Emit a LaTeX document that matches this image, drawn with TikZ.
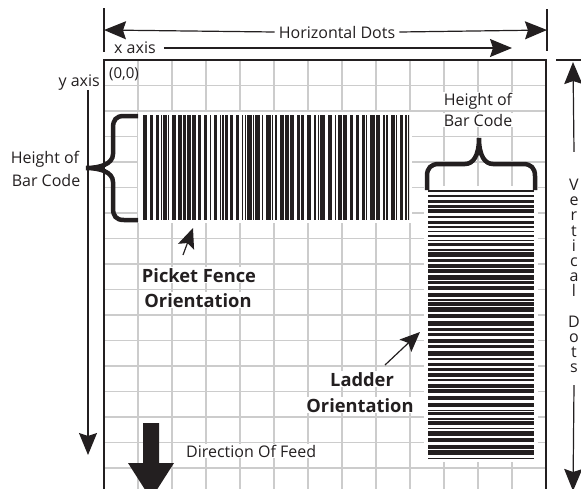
\documentclass[tikz,border=0pt]{standalone}
\usepackage{fontspec}
\setmainfont{Open Sans}
\usetikzlibrary{positioning}
\usetikzlibrary{arrows.meta}
\usetikzlibrary{calc}
\definecolor{ink}{HTML}{231F20}

\begin{document}
\begin{tikzpicture}[
    x=1pt, y=-1pt,
    words/.style={text=ink, font=\fontsize{16}{15.2}\selectfont, inner sep=1pt},
    tag/.style={words, font=\fontsize{18.3}{15.2}\selectfont\bfseries, fill=white},
    gridline/.style={draw=gray!40, line width=1.1pt},
    frame/.style={draw=ink, line width=2.6pt},
    tick/.style={draw=ink, line width=1.2pt},
    dim/.style={draw=ink, line width=1.2pt, -{Stealth[length=22pt,width=18pt,inset=3pt]}},
    pointer/.style={draw=ink, line width=1.2pt, -{Stealth[length=20pt,width=17pt,inset=4pt]}},
    curly/.style={draw=ink, line width=4.5pt},
    bar/.style={fill=ink},
]
    \useasboundingbox (0,0) rectangle (581,488);

    % grid
    \foreach \gx in {138,172,...,512} \draw[gridline] (\gx,60) -- (\gx,490);
    \foreach \gy in {85.5,111,...,468} \draw[gridline] (104,\gy) -- (546,\gy);

    % bar codes
    \fill[white] (138,112) rectangle (412,223);
    \fill[white] (424,186) rectangle (538,462);
    \pgfmathsetseed{17}
    \begin{scope}
        \clip (143,115) rectangle (409,220);
        \foreach \i [evaluate=\i as \bw using {1.4+1.0*int(4*rnd)},
                     evaluate=\i as \nx using {\cx+\bw+1.2+0.9*int(3*rnd)},
                     remember=\nx as \cx (initially 143)] in {1,...,70}
            \fill[bar] (\cx,115) rectangle (\cx+\bw,220);
    \end{scope}
    \begin{scope}
        \clip (428,190) rectangle (534,458);
        \foreach \i [evaluate=\i as \bw using {1.3+1.1*int(4*rnd)},
                     evaluate=\i as \ny using {\cy+\bw+1.2+0.9*int(3*rnd)},
                     remember=\ny as \cy (initially 190)] in {1,...,70}
            \fill[bar] (428,\cy) rectangle (534,\cy+\bw);
    \end{scope}

    \draw[frame] (104,492) -- (104,60) -- (546,60) -- (546,492);

    % braces
    \draw[curly] (138,116) -- (124,116) .. controls (116,116) and (113,120) .. (113,128) -- (113,154)
        .. controls (113,164) and (100,168) .. (86,168)
        .. controls (100,168) and (113,172) .. (113,182) -- (113,208)
        .. controls (113,216) and (116,220) .. (124,220) -- (138,220);
    \draw[curly] (427,190) -- (427,176) .. controls (427,168) and (431,164) .. (439,164) -- (465,164)
        .. controls (473,164) and (479,156) .. (479,138)
        .. controls (479,156) and (485,164) .. (493,164) -- (523,164)
        .. controls (531,164) and (535,168) .. (535,176) -- (535,190);

    % labels
    \node[words, inner sep=4pt] (HD) at (337,32) {Horizontal Dots};
    \node[words, anchor=base west] (XA) at (113,53) {x axis};
    \node[words, anchor=base east] (YA) at (101,86) {y axis};
    \node[words, anchor=base west, font=\fontsize{15}{15}\selectfont] (O) at (108,78) {(0,0)};
    \node[words, anchor=base] (HL1) at (45,163) {Height of};
    \node[words, anchor=base] (HL2) at (46,186) {Bar Code};
    \node[words, anchor=base, fill=white] (HR1) at (478,105) {Height of};
    \node[words, anchor=base, fill=white] (HR2) at (478,126) {Bar Code};
    \node[tag, anchor=base] (PF1) at (199,282) {Picket Fence};
    \node[tag, anchor=base] (PF2) at (198,307) {Orientation};
    \node[tag, anchor=base] (LD1) at (362,386) {Ladder};
    \node[tag, anchor=base] (LD2) at (360,412) {Orientation};
    \node[words, anchor=base west, fill=white] (DF) at (185,457) {Direction Of Feed};
    \node[words, align=center] (VD) at (574,276) {V\\e\\r\\t\\i\\c\\a\\l\\[15.2pt]D\\o\\t\\s};

    \coordinate (HL) at (104,30);
    \coordinate (HR) at (547,30);
    \coordinate (XE) at (512,48);
    \coordinate (YS) at (88,90);
    \coordinate (YE) at (88,455);
    \coordinate (VT) at (573,62);
    \coordinate (VB) at (573,491);
    \coordinate (PS) at (183,255);
    \coordinate (PE) at (193,228);
    \coordinate (LS) at (385,365);
    \coordinate (LE) at (420,332);

    % ticks and arrows
    \draw[tick] (104,8) -- (104,52);
    \draw[tick] (547,9) -- (547,51);
    \draw[tick] (556,60) -- (590,60);
    \draw[dim] (HD.west) -- (HL);
    \draw[dim] (HD.east) -- (HR);
    \draw[dim] ([xshift=7pt]XA.east |- XE) -- (XE);
    \draw[dim] (YS) -- (YE);
    \draw[dim] ([yshift=26pt]VD.north) -- (VT);
    \draw[dim] ([yshift=-11pt]VD.south) -- (VB);
    \draw[pointer] (PS) -- (PE);
    \draw[pointer] (LS) -- (LE);

    % feed arrow
    \fill[ink] (143,423) -- (159,423) -- (159,463) -- (174,463) -- (151,499) -- (128,463) -- (143,463) -- cycle;
\end{tikzpicture}
\end{document}
